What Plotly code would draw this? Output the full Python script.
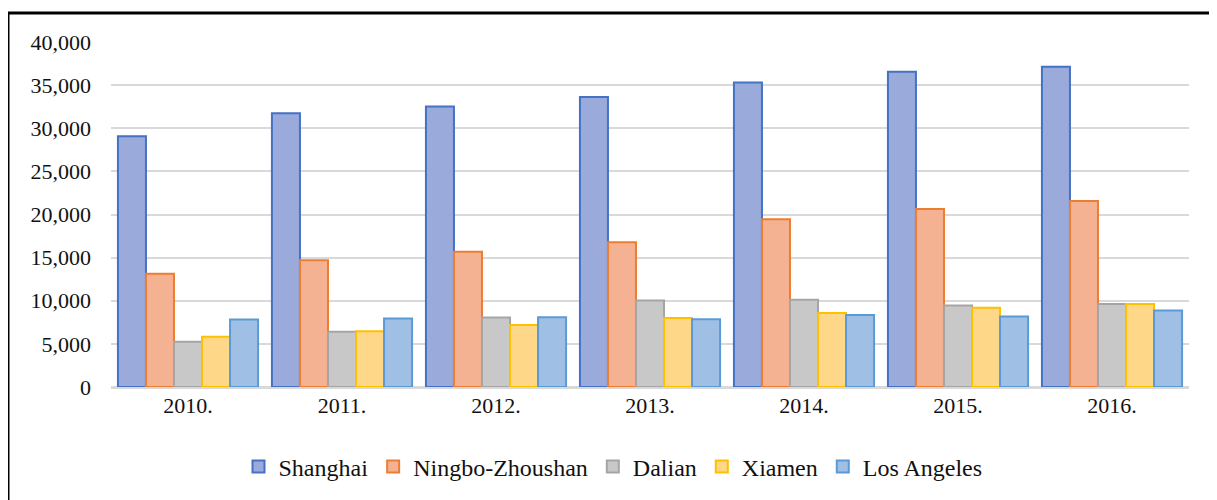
import plotly.graph_objects as go

years = ["2010.", "2011.", "2012.", "2013.", "2014.", "2015.", "2016."]
shanghai = [29069, 31739, 32529, 33617, 35290, 36537, 37133]
ningbo = [13144, 14686, 15670, 16770, 19450, 20630, 21560]
dalian = [5242, 6400, 8064, 10015, 10130, 9450, 9614]
xiamen = [5820, 6460, 7200, 8008, 8572, 9180, 9614]
los_angeles = [7832, 7941, 8078, 7868, 8340, 8160, 8857]

series_names = ["Shanghai", "Ningbo-Zhoushan", "Dalian", "Xiamen", "Los Angeles"]
series_values = [shanghai, ningbo, dalian, xiamen, los_angeles]
fills = ["#99AADB", "#F5B293", "#C8C8C8", "#FFD789", "#A0BFE5"]
lines = ["#4472C4", "#ED7D31", "#A5A5A5", "#FFC000", "#5B9BD5"]
y_ticks = [0, 5000, 10000, 15000, 20000, 25000, 30000, 35000, 40000]

SERIF = "Liberation Serif"

fig = go.Figure()
for name, vals, fc, lc in zip(series_names, series_values, fills, lines):
    fig.add_trace(go.Bar(
        x=years, y=vals, name=name,
        marker=dict(color=fc, line=dict(color=lc, width=2)),
    ))

# page has an 8px body margin; work in figure pixels = page pixels - 8
OFF = 8
W, H = 1217, 500
L = 111 - OFF
R = W - (1189 - OFF)
T = 42 - OFF
B = H - (387 - OFF)
pw, ph = W - L - R, H - T - B

def px(x):
    return (x - OFF - L) / pw

def py(y):
    return (H - B - (y - OFF)) / ph

fig.update_layout(
    width=W, height=H,
    margin=dict(l=L, r=R, t=T, b=B),
    paper_bgcolor="white", plot_bgcolor="white",
    barmode="group", bargap=0.09, bargroupgap=0,
    font=dict(family=SERIF, color="#111111"),
    showlegend=True,
    legend=dict(
        orientation="h", x=px(613), xanchor="center", y=py(467), yanchor="middle",
        font=dict(size=24, family=SERIF, color="#111111"),
        itemwidth=30, traceorder="normal",
    ),
    xaxis=dict(
        showgrid=False, showline=False, ticks="",
        tickfont=dict(size=22, family=SERIF, color="#111111"),
        ticklabelstandoff=3,
    ),
    yaxis=dict(
        range=[0, 40000], tickvals=y_ticks, tickformat=",d",
        showgrid=True, gridcolor="#D9D9D9", gridwidth=1.5,
        zeroline=True, zerolinecolor="#D9D9D9", zerolinewidth=2.5,
        showline=False, ticks="",
        tickfont=dict(size=22, family=SERIF, color="#111111"),
        ticklabelstandoff=19,
    ),
    shapes=[dict(
        type="rect", xref="paper", yref="paper",
        x0=px(8), x1=px(1240), y0=py(530), y1=py(13),
        line=dict(color="black", width=3), fillcolor="rgba(0,0,0,0)", layer="above",
    )],
)

fig.write_html("out.html")
